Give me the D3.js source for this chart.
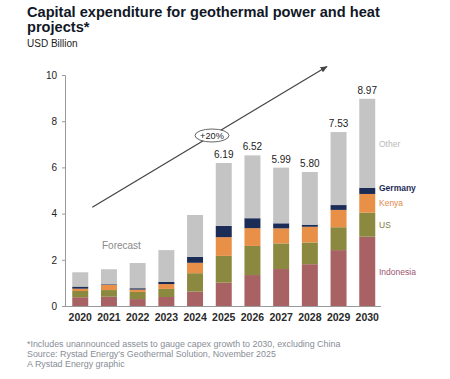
<!DOCTYPE html>
<html>
<head>
<meta charset="utf-8">
<script src="https://cdn.jsdelivr.net/npm/d3@7"></script>
<style>
  html, body { margin: 0; padding: 0; background: #fff; }
  svg { display: block; font-family: "Liberation Sans", Arial, sans-serif; }
</style>
</head>
<body>
<svg id="chart" width="450" height="379"></svg>
<script>
const years = ["2020","2021","2022","2023","2024","2025","2026","2027","2028","2029","2030"];
const indonesia = [0.38, 0.40, 0.30, 0.39, 0.62, 1.01, 1.34, 1.60, 1.81, 2.42, 3.00];
const us        = [0.27, 0.29, 0.31, 0.35, 0.80, 1.16, 1.26, 1.11, 0.94, 0.99, 1.04];
const kenya     = [0.10, 0.22, 0.10, 0.21, 0.45, 0.81, 0.77, 0.65, 0.68, 0.75, 0.81];
const germany   = [0.09, 0.03, 0.06, 0.09, 0.26, 0.49, 0.43, 0.22, 0.09, 0.21, 0.27];
const other     = [0.62, 0.65, 1.09, 1.38, 1.81, 2.72, 2.72, 2.41, 2.28, 3.16, 3.85];
const totalLabels = [null, null, null, null, null, "6.19", "6.52", "5.99", "5.80", "7.53", "8.97"];
const seriesNames = ["Indonesia", "US", "Kenya", "Germany", "Other"];
const seriesColors = ["#a86264", "#8b893f", "#e88f48", "#1b2c57", "#c4c4c4"];
const legendColors = ["#9c5670", "#7d7b34", "#e0894a", "#1b2c57", "#b9b9b9"];
const yTicks = [0, 2, 4, 6, 8, 10];

const seriesValues = [indonesia, us, kenya, germany, other];
const rows = years.map((y, i) => {
  const r = { year: y };
  seriesNames.forEach((s, k) => r[s] = seriesValues[k][i]);
  return r;
});

const svg = d3.select("#chart");

const x = d3.scaleBand().domain(years).range([65.9, 381.6]).paddingInner(0.443).paddingOuter(0.2215);
const y = d3.scaleLinear().domain([0, 10]).range([306, 75]);

// title
svg.append("text").attr("x", 27).attr("y", 17).attr("font-size", 14.6).attr("font-weight", 700)
  .attr("fill", "#111827").text("Capital expenditure for geothermal power and heat");
svg.append("text").attr("x", 27).attr("y", 32).attr("font-size", 14.6).attr("font-weight", 700)
  .attr("fill", "#111827").text("projects*");
svg.append("text").attr("x", 27).attr("y", 47).attr("font-size", 10).attr("fill", "#222")
  .text("USD Billion");

// stacked bars
const stack = d3.stack().keys(seriesNames)(rows);
svg.append("g").selectAll("g").data(stack).join("g")
  .attr("fill", (d, i) => seriesColors[i])
  .selectAll("rect").data(d => d).join("rect")
  .attr("x", d => x(d.data.year))
  .attr("width", x.bandwidth())
  .attr("y", d => y(d[1]))
  .attr("height", d => y(d[0]) - y(d[1]));

// y axis
const yAxis = svg.append("g").attr("transform", "translate(65,0)")
  .call(d3.axisLeft(y).tickValues(yTicks).tickSize(3).tickPadding(5).tickFormat(d3.format("d")));
yAxis.select(".domain").attr("stroke", "#9a9a9a");
yAxis.selectAll(".tick line").attr("stroke", "#9a9a9a");
yAxis.selectAll("text").attr("font-size", 10).attr("fill", "#222").attr("font-family", "Liberation Sans, Arial, sans-serif");

// x axis
const xAxis = svg.append("g").attr("transform", "translate(0,306)")
  .call(d3.axisBottom(x).tickSize(0).tickPadding(8));
xAxis.select(".domain").attr("stroke", "#9a9a9a").attr("d", "M65,0.5H381");
xAxis.selectAll("text").attr("font-size", 10.5).attr("font-weight", 700).attr("fill", "#2a2a2a")
  .attr("font-family", "Liberation Sans, Arial, sans-serif");

// total labels
const totals = rows.map((r, i) => ({ year: r.year, total: d3.sum(seriesValues, s => s[i]), label: totalLabels[i] }));
svg.append("g").selectAll("text").data(totals.filter(d => d.label)).join("text")
  .attr("x", d => x(d.year) + x.bandwidth() / 2)
  .attr("y", d => y(d.total) - 5)
  .attr("text-anchor", "middle").attr("font-size", 10).attr("fill", "#222")
  .text(d => d.label);

// legend labels next to last bar
const legendY = [272, 225, 202.7, 188.3, 144.3];
svg.append("g").selectAll("text").data(seriesNames).join("text")
  .attr("x", 379)
  .attr("y", (d, i) => legendY[i] + 3)
  .attr("font-size", 8.5)
  .attr("font-weight", (d, i) => i === 3 ? 700 : 400)
  .attr("fill", (d, i) => legendColors[i])
  .text(d => d);

// forecast label
svg.append("text").attr("x", 102).attr("y", 248.5).attr("font-size", 10).attr("fill", "#8a8a8a")
  .text("Forecast");

// arrow annotation
svg.append("defs").append("marker").attr("id", "ah").attr("viewBox", "0 0 10 10")
  .attr("refX", 9).attr("refY", 5).attr("markerWidth", 6).attr("markerHeight", 6)
  .attr("orient", "auto")
  .append("path").attr("d", "M0,1 L10,5 L0,9 Z").attr("fill", "#444");
svg.append("line").attr("x1", 92.3).attr("y1", 207.3).attr("x2", 327).attr("y2", 66.5)
  .attr("stroke", "#444").attr("stroke-width", 1.2).attr("marker-end", "url(#ah)");
svg.append("ellipse").attr("cx", 212).attr("cy", 135.5).attr("rx", 17).attr("ry", 6.5)
  .attr("fill", "#fff").attr("stroke", "#555").attr("stroke-width", 0.9);
svg.append("text").attr("x", 212).attr("y", 138.8).attr("text-anchor", "middle")
  .attr("font-size", 9.2).attr("fill", "#222").text("+20%");

// footnotes
const notes = [
  "*Includes unannounced assets to gauge capex growth to 2030, excluding China",
  "Source: Rystad Energy's Geothermal Solution, November 2025",
  "A Rystad Energy graphic"
];
svg.append("g").selectAll("text").data(notes).join("text")
  .attr("x", 27).attr("y", (d, i) => 347.3 + i * 10)
  .attr("font-size", 8.9).attr("fill", "#888d96")
  .text(d => d);
</script>
</body>
</html>
